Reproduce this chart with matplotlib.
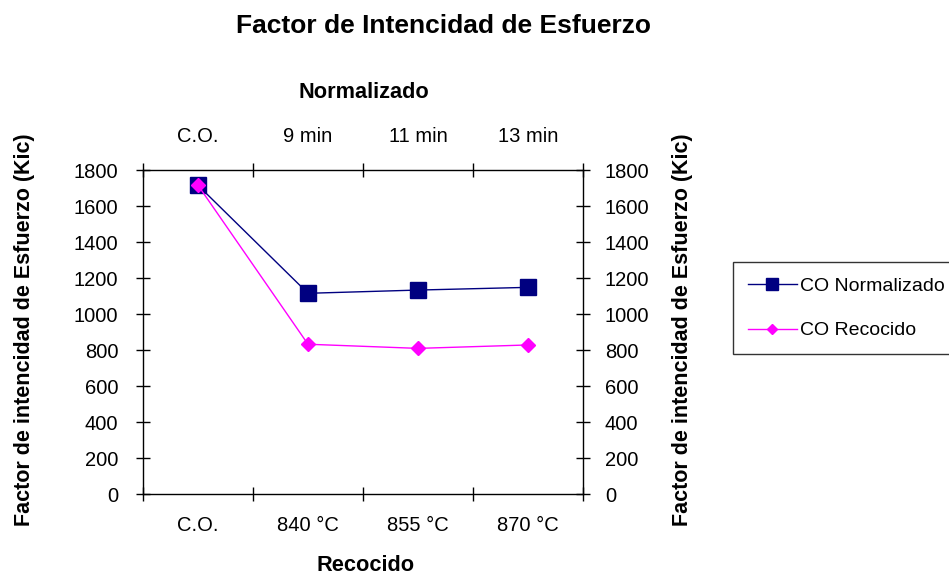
import matplotlib
matplotlib.use("Agg")
import matplotlib.pyplot as plt

plt.rcParams['font.family'] = ['Liberation Sans', 'DejaVu Sans']

bottom_labels = ["C.O.", "840 °C", "855 °C", "870 °C"]
top_labels = ["C.O.", "9 min", "11 min", "13 min"]
normalizado = [1715, 1115, 1133, 1148]
recocido = [1715, 832, 809, 828]
y_ticks = [0, 200, 400, 600, 800, 1000, 1200, 1400, 1600, 1800]

W, H = 949, 576
fig = plt.figure(figsize=(W / 100, H / 100), dpi=100)


def fx(px):
    return px / W


def fy(py):
    return 1 - py / H


ax = fig.add_axes([fx(143), fy(494), fx(583) - fx(143), fy(170) - fy(494)])

x = list(range(len(bottom_labels)))
ln1, = ax.plot(x, normalizado, color="#000080", lw=1.0, marker="s", ms=11,
               mfc="#000080", mec="#000080", label="CO Normalizado", zorder=3)
ln2, = ax.plot(x, recocido, color="#FF00FF", lw=1.0, marker="D", ms=7.5,
               mfc="#FF00FF", mec="#FF00FF", label="CO Recocido", zorder=4)

TICK_FS = 14.5
TICK_LEN = 9.4

ax.set_xlim(-0.5, len(x) - 0.5)
ax.set_ylim(0, 1800)
ax.set_yticks(y_ticks)
ax.set_xticks(x)
ax.set_xticklabels(bottom_labels)
ax.set_xticks([i - 0.5 for i in range(len(x) + 1)], minor=True)
ax.tick_params(axis="x", which="major", length=0, labelsize=TICK_FS, pad=16)
ax.tick_params(axis="x", which="minor", direction="inout", length=TICK_LEN, width=1)
ax.tick_params(axis="y", direction="inout", length=TICK_LEN, width=1,
               labelsize=TICK_FS, pad=13)
for side in ["top", "right"]:
    ax.spines[side].set_visible(False)

# secondary axes: top category axis and right value axis
axt = ax.twiny()
axt.set_xlim(ax.get_xlim())
axt.set_xticks(x)
axt.set_xticklabels(top_labels)
axt.set_xticks([i - 0.5 for i in range(len(x) + 1)], minor=True)
axt.tick_params(axis="x", which="major", length=0, labelsize=TICK_FS, pad=17)
axt.tick_params(axis="x", which="minor", direction="inout", length=TICK_LEN, width=1)
for side in ["left", "right", "bottom"]:
    axt.spines[side].set_visible(False)

axr = ax.twinx()
axr.set_ylim(ax.get_ylim())
axr.set_yticks(y_ticks)
axr.tick_params(axis="y", direction="inout", length=TICK_LEN, width=1,
                labelsize=TICK_FS, pad=11)
for side in ["left", "top", "bottom"]:
    axr.spines[side].set_visible(False)

for a in (ax, axt, axr):
    for s in a.spines.values():
        s.set_linewidth(1.0)

# titles
fig.text(fx(443.5), fy(33), "Factor de Intencidad de Esfuerzo", ha="center",
         va="baseline", fontsize=19, fontweight="bold")
fig.text(fx(363.5), fy(98), "Normalizado", ha="center", va="baseline",
         fontsize=15.7, fontweight="bold")
fig.text(fx(366), fy(571), "Recocido", ha="center", va="baseline",
         fontsize=15.7, fontweight="bold")
ylab = "Factor de intencidad de Esfuerzo (Kic)"
fig.text(fx(30), fy(330), ylab, rotation=90, rotation_mode="anchor",
         ha="center", va="baseline", fontsize=15.5, fontweight="bold")
fig.text(fx(688), fy(330), ylab, rotation=90, rotation_mode="anchor",
         ha="center", va="baseline", fontsize=15.5, fontweight="bold")

leg = fig.legend(handles=[ln1, ln2], loc="upper left",
                 bbox_to_anchor=(fx(733), fy(262)), frameon=True,
                 fancybox=False, edgecolor="black", fontsize=14,
                 handlelength=2.5, borderpad=0.77, labelspacing=1.4,
                 handletextpad=0.15, borderaxespad=0)
leg.get_frame().set_linewidth(1.0)
hs = leg.legend_handles
hs[0].set_markersize(8.5)
hs[1].set_markersize(5.5)

fig.savefig("out.png", dpi=100, facecolor="white")
